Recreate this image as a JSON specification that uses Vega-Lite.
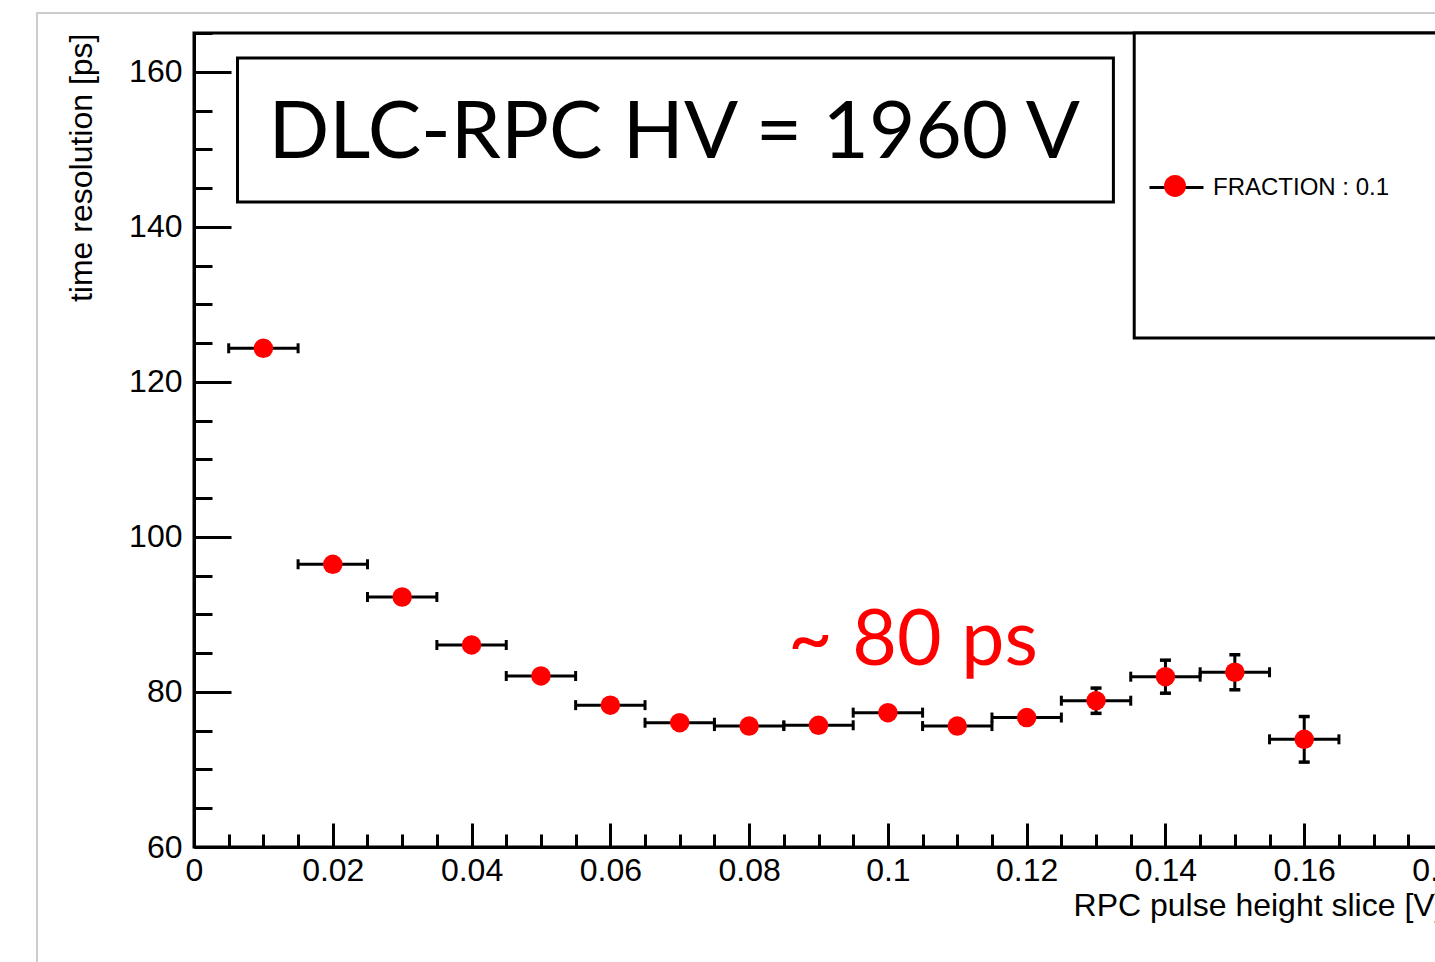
{
  "$schema": "https://vega.github.io/schema/vega-lite/v6.json",
  "autosize": {"type": "none"},
  "width": 1249,
  "height": 814,
  "padding": {"left": 194, "top": 33, "right": -8, "bottom": 115},
  "background": "white",
  "config": {
    "view": {"stroke": "black", "strokeWidth": 3},
    "font": "Liberation Sans",
    "axis": {
      "grid": false,
      "tickWidth": 3, "tickColor": "black",
      "domainColor": "black", "domainWidth": 3,
      "labelFont": "Liberation Sans", "labelFontSize": 32, "labelColor": "black",
      "labelFlush": false, "labelOverlap": false,
      "titleFont": "Liberation Sans", "titleFontSize": 32, "titleFontWeight": "normal", "titleColor": "black",
      "titleAnchor": "end"
    }
  },
  "datasets": {
    "points": [
      {"series": "FRACTION : 0.1", "x": 0.01, "xlo": 0.005, "xhi": 0.015, "y": 124.33, "ylo": 123.53, "yhi": 125.13},
      {"series": "FRACTION : 0.1", "x": 0.02, "xlo": 0.015, "xhi": 0.025, "y": 96.47, "ylo": 95.87, "yhi": 97.07},
      {"series": "FRACTION : 0.1", "x": 0.03, "xlo": 0.025, "xhi": 0.035, "y": 92.25, "ylo": 91.65, "yhi": 92.85},
      {"series": "FRACTION : 0.1", "x": 0.04, "xlo": 0.035, "xhi": 0.045, "y": 86.06, "ylo": 85.46, "yhi": 86.66},
      {"series": "FRACTION : 0.1", "x": 0.05, "xlo": 0.045, "xhi": 0.055, "y": 82.06, "ylo": 81.46, "yhi": 82.66},
      {"series": "FRACTION : 0.1", "x": 0.06, "xlo": 0.055, "xhi": 0.065, "y": 78.3, "ylo": 77.8, "yhi": 78.8},
      {"series": "FRACTION : 0.1", "x": 0.07, "xlo": 0.065, "xhi": 0.075, "y": 76.03, "ylo": 75.53, "yhi": 76.53},
      {"series": "FRACTION : 0.1", "x": 0.08, "xlo": 0.075, "xhi": 0.085, "y": 75.6, "ylo": 75.1, "yhi": 76.1},
      {"series": "FRACTION : 0.1", "x": 0.09, "xlo": 0.085, "xhi": 0.095, "y": 75.7, "ylo": 75.1, "yhi": 76.3},
      {"series": "FRACTION : 0.1", "x": 0.1, "xlo": 0.095, "xhi": 0.105, "y": 77.33, "ylo": 76.73, "yhi": 77.93},
      {"series": "FRACTION : 0.1", "x": 0.11, "xlo": 0.105, "xhi": 0.115, "y": 75.6, "ylo": 75.0, "yhi": 76.2},
      {"series": "FRACTION : 0.1", "x": 0.12, "xlo": 0.115, "xhi": 0.125, "y": 76.7, "ylo": 76.0, "yhi": 77.4},
      {"series": "FRACTION : 0.1", "x": 0.13, "xlo": 0.125, "xhi": 0.135, "y": 78.87, "ylo": 77.24, "yhi": 80.5},
      {"series": "FRACTION : 0.1", "x": 0.14, "xlo": 0.135, "xhi": 0.145, "y": 81.97, "ylo": 79.84, "yhi": 84.1},
      {"series": "FRACTION : 0.1", "x": 0.15, "xlo": 0.145, "xhi": 0.155, "y": 82.54, "ylo": 80.28, "yhi": 84.8},
      {"series": "FRACTION : 0.1", "x": 0.16, "xlo": 0.155, "xhi": 0.165, "y": 73.89, "ylo": 70.95, "yhi": 76.83}
    ],
    "page": [{"x1": -0.02262, "x2": 0.25, "y1": 30, "y2": 167.58}],
    "boxes": [
      {"box": "title", "x1": 0.00627, "x2": 0.1325, "y1": 143.2, "y2": 161.78},
      {"box": "legend", "x1": 0.1355, "x2": 0.2, "y1": 125.66, "y2": 165}
    ],
    "headline": [{"x": 0.0692, "y": 148.88, "text": "DLC-RPC HV = 1960 V"}],
    "note": [{"x": 0.1036, "y": 83.48, "text": "~ 80 ps"}]
  },
  "layer": [
    {
      "data": {"name": "page"},
      "mark": {"type": "rect", "fill": null, "stroke": "#cccccc", "strokeWidth": 2, "clip": false},
      "encoding": {
        "x": {"field": "x1", "type": "quantitative"},
        "x2": {"field": "x2"},
        "y": {"field": "y1", "type": "quantitative"},
        "y2": {"field": "y2"}
      }
    },
    {
      "data": {"name": "points"},
      "mark": {"type": "rule", "strokeWidth": 3},
      "encoding": {
        "x": {
          "field": "xlo", "type": "quantitative",
          "scale": {"domain": [0, 0.18], "nice": false, "zero": false},
          "axis": {
            "title": "RPC pulse height slice [V]",
            "values": [0, 0.005, 0.01, 0.015, 0.02, 0.025, 0.03, 0.035, 0.04, 0.045, 0.05, 0.055, 0.06, 0.065, 0.07, 0.075, 0.08, 0.085, 0.09, 0.095, 0.1, 0.105, 0.11, 0.115, 0.12, 0.125, 0.13, 0.135, 0.14, 0.145, 0.15, 0.155, 0.16, 0.165, 0.17, 0.175, 0.18],
            "tickCount": 200,
            "format": "~g",
            "labelExpr": "abs(datum.value*50 - round(datum.value*50)) < 0.01 ? datum.label : ''",
            "tickSize": {"condition": {"test": "abs(datum.value*50 - round(datum.value*50)) < 0.01", "value": -24}, "value": -13},
            "labelPadding": 32,
            "titlePadding": -7
          }
        },
        "x2": {"field": "xhi"},
        "y": {
          "field": "y", "type": "quantitative",
          "scale": {"domain": [60, 165], "nice": false, "zero": false},
          "axis": {
            "title": "time resolution [ps]",
            "values": [60, 65, 70, 75, 80, 85, 90, 95, 100, 105, 110, 115, 120, 125, 130, 135, 140, 145, 150, 155, 160, 165],
            "tickCount": 200,
            "format": "d",
            "labelExpr": "datum.value % 20 === 0 ? datum.label : ''",
            "tickSize": {"condition": {"test": "datum.value % 20 === 0", "value": -37}, "value": -18},
            "labelPadding": 49,
            "titlePadding": 30
          }
        },
        "stroke": {
          "field": "series", "type": "nominal",
          "scale": {"range": ["black"]},
          "legend": {
            "orient": "none", "legendX": 954, "legendY": 126, "title": null, "padding": 0,
            "symbolType": "stroke", "symbolSize": 2916, "symbolStrokeWidth": 3, "symbolStrokeColor": "black",
            "labelFont": "Liberation Sans", "labelFontSize": 24, "labelColor": "black", "labelOffset": 8, "labelLimit": 500,
            "zindex": 1
          }
        }
      }
    },
    {
      "data": {"name": "points"},
      "mark": {"type": "tick", "orient": "vertical", "size": 10, "thickness": 3, "color": "black", "opacity": 1},
      "encoding": {
        "x": {"field": "xlo", "type": "quantitative"},
        "y": {"field": "y", "type": "quantitative"}
      }
    },
    {
      "data": {"name": "points"},
      "mark": {"type": "tick", "orient": "vertical", "size": 10, "thickness": 3, "color": "black", "opacity": 1},
      "encoding": {
        "x": {"field": "xhi", "type": "quantitative"},
        "y": {"field": "y", "type": "quantitative"}
      }
    },
    {
      "data": {"name": "points"},
      "mark": {"type": "rule", "strokeWidth": 3, "color": "black"},
      "encoding": {
        "x": {"field": "x", "type": "quantitative"},
        "y": {"field": "ylo", "type": "quantitative"},
        "y2": {"field": "yhi"}
      }
    },
    {
      "data": {"name": "points"},
      "mark": {"type": "tick", "orient": "horizontal", "size": 11, "thickness": 3.5, "color": "black", "opacity": 1},
      "encoding": {
        "x": {"field": "x", "type": "quantitative"},
        "y": {"field": "ylo", "type": "quantitative"}
      }
    },
    {
      "data": {"name": "points"},
      "mark": {"type": "tick", "orient": "horizontal", "size": 11, "thickness": 3.5, "color": "black", "opacity": 1},
      "encoding": {
        "x": {"field": "x", "type": "quantitative"},
        "y": {"field": "yhi", "type": "quantitative"}
      }
    },
    {
      "data": {"name": "points"},
      "mark": {"type": "point", "filled": true, "size": 380, "opacity": 1, "strokeWidth": 0},
      "encoding": {
        "x": {"field": "x", "type": "quantitative"},
        "y": {"field": "y", "type": "quantitative"},
        "fill": {
          "field": "series", "type": "nominal",
          "scale": {"range": ["#ff0000"]},
          "legend": {
            "orient": "none", "legendX": 954, "legendY": 126, "title": null, "padding": 0,
            "symbolType": "M-0.407,0A0.407,0.407,0,1,1,0.407,0A0.407,0.407,0,1,1,-0.407,0Z",
            "symbolSize": 2916, "symbolStrokeWidth": 0, "symbolFillColor": "#ff0000", "symbolOpacity": 1,
            "labelFont": "Liberation Sans", "labelFontSize": 24, "labelExpr": "''", "labelOffset": 8, "labelLimit": 500,
            "zindex": 2
          }
        }
      }
    },
    {
      "data": {"name": "boxes"},
      "mark": {"type": "rect", "fill": "white", "stroke": "black", "strokeWidth": 3},
      "encoding": {
        "x": {"field": "x1", "type": "quantitative"},
        "x2": {"field": "x2"},
        "y": {"field": "y1", "type": "quantitative"},
        "y2": {"field": "y2"}
      }
    },
    {
      "data": {"name": "headline"},
      "mark": {"type": "text", "font": "Lato", "fontSize": 80, "color": "black", "align": "center", "baseline": "alphabetic"},
      "encoding": {
        "x": {"field": "x", "type": "quantitative"},
        "y": {"field": "y", "type": "quantitative"},
        "text": {"field": "text"}
      }
    },
    {
      "data": {"name": "note"},
      "mark": {"type": "text", "font": "Lato", "fontSize": 77, "color": "#ff0000", "align": "center", "baseline": "alphabetic"},
      "encoding": {
        "x": {"field": "x", "type": "quantitative"},
        "y": {"field": "y", "type": "quantitative"},
        "text": {"field": "text"}
      }
    }
  ]
}
